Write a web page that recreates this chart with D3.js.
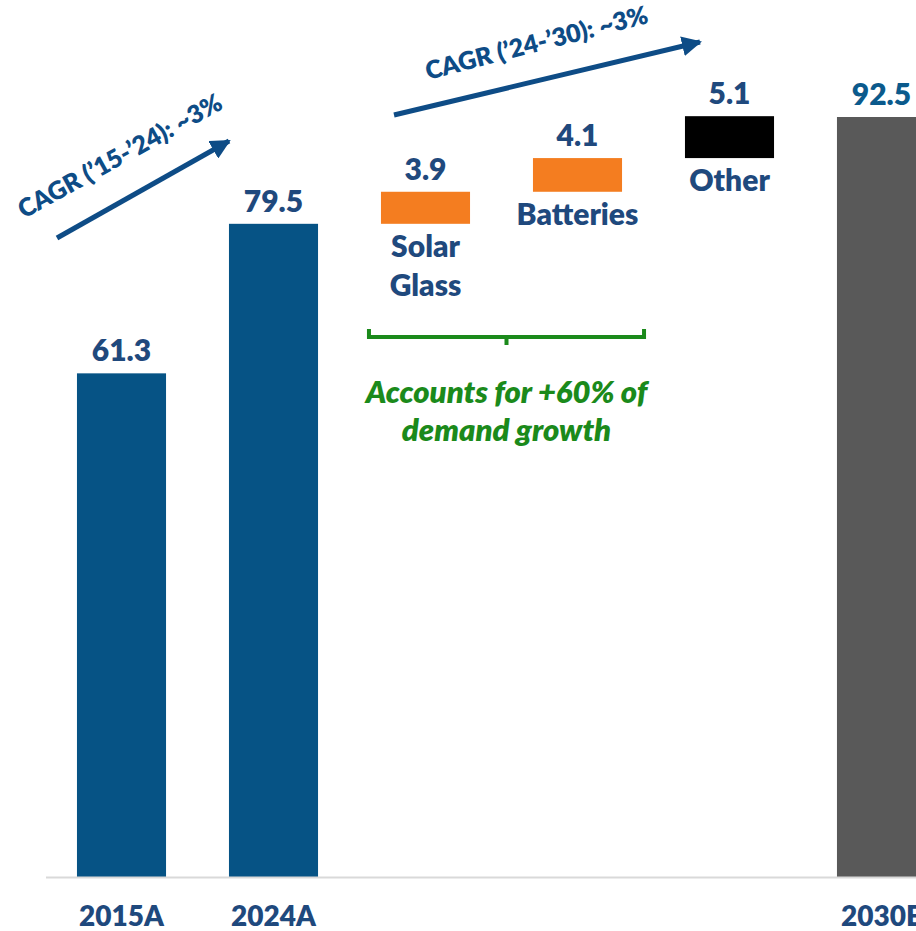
<!DOCTYPE html>
<html>
<head>
<meta charset="utf-8">
<script src="https://cdn.jsdelivr.net/npm/d3@7"></script>
<style>
  body { margin: 0; background: #fff; }
  svg { display: block; font-family: Lato, "Open Sans", sans-serif; font-weight: 800; }
</style>
</head>
<body>
<script>
let w = 916;
let h = 931;

// data
const categories = ["2015A", "2024A", "Solar Glass", "Batteries", "Other", "2030E"];
const axisLabels = ["2015A", "2024A", "", "", "", "2030E"];
const values = [61.3, 79.5, 3.9, 4.1, 5.1, 92.5];
const kinds = ["total", "total", "step", "step", "step", "total"];
const barNames = ["", "", ["Solar", "Glass"], ["Batteries"], ["Other"], ""];
const barColors = ["#065385", "#065385", "#f47d20", "#f47d20", "#000000", "#595959"];
const cagrLabels = ["CAGR (\u201915-\u201924): ~3%", "CAGR (\u201924-\u201930): ~3%"];
const bracketNote = ["Accounts for +60% of", "demand growth"];

let navy = "#1f497d";

let svg = d3.select("body")
            .append("svg")
            .attr("width", w)
            .attr("height", h);

let x = d3.scaleBand(categories, [45.5, 957.5])
          .paddingInner(0.414)
          .paddingOuter(0.207);
let y = d3.scaleLinear([0, 92.5], [877, 117]);

// waterfall: steps start where the previous bar ended
let bars = [];
let running = 0;
categories.forEach((c, i) => {
    let lo, hi;
    if (kinds[i] == "total") { lo = 0; hi = values[i]; running = values[i]; }
    else { lo = running; hi = running + values[i]; running = hi; }
    bars.push({cat: c, lo: lo, hi: hi, v: values[i], color: barColors[i], names: barNames[i]});
});

svg.selectAll("rect.bar")
   .data(bars)
   .enter()
   .append("rect")
   .attr("class", "bar")
   .attr("x", d => x(d.cat))
   .attr("width", x.bandwidth())
   .attr("y", d => y(d.hi))
   .attr("height", d => y(d.lo) - y(d.hi))
   .attr("fill", d => d.color);

// value labels
svg.selectAll("text.value")
   .data(bars)
   .enter()
   .append("text")
   .attr("class", "value")
   .attr("x", d => x(d.cat) + x.bandwidth() / 2)
   .attr("y", d => y(d.hi) - 12)
   .attr("text-anchor", "middle")
   .attr("font-size", 30)
   .attr("fill", d => d.cat == "2030E" ? "#0b5a8c" : navy)
   .text(d => d.v.toFixed(1));

// names below the step bars
bars.filter(d => d.names).forEach(d => {
    d.names.forEach((n, j) => {
        svg.append("text")
           .attr("x", x(d.cat) + x.bandwidth() / 2)
           .attr("y", y(d.lo) + 33 + j * 39)
           .attr("text-anchor", "middle")
           .attr("font-size", 30)
           .attr("fill", navy)
           .text(n);
    });
});

// bottom axis
let axis = d3.axisBottom(x)
             .tickSize(0)
             .tickPadding(29)
             .tickFormat((d, i) => axisLabels[i]);
let ax = svg.append("g")
            .attr("transform", `translate(0, ${y(0)})`)
            .call(axis);
ax.select(".domain").attr("stroke", "#d9d9d9").attr("stroke-width", 2);
ax.selectAll("text")
  .attr("font-family", "Lato, sans-serif")
  .attr("font-weight", 800)
  .attr("font-size", 28)
  .attr("fill", navy);

// CAGR arrows
let defs = svg.append("defs");
defs.append("marker")
    .attr("id", "head")
    .attr("viewBox", "0 0 10 10")
    .attr("refX", 9).attr("refY", 5)
    .attr("markerWidth", 4).attr("markerHeight", 4)
    .attr("orient", "auto")
    .append("path")
    .attr("d", "M0,0 L10,5 L0,10 Z")
    .attr("fill", "#0e4c86");

let arrows = [
    {x1: 57, y1: 238, x2: 229, y2: 141, tx: 24, ty: 219, ang: -29},
    {x1: 394, y1: 115, x2: 700, y2: 42, tx: 428, ty: 80, ang: -14.5}
];
arrows.forEach((a, i) => {
    svg.append("line")
       .attr("x1", a.x1).attr("y1", a.y1)
       .attr("x2", a.x2).attr("y2", a.y2)
       .attr("stroke", "#0e4c86")
       .attr("stroke-width", 5)
       .attr("marker-end", "url(#head)");
    svg.append("text")
       .attr("transform", `translate(${a.tx},${a.ty}) rotate(${a.ang})`)
       .attr("font-size", 25)
       .attr("fill", "#0e4c86")
       .text(cagrLabels[i]);
});

// green bracket under solar glass + batteries
let bx1 = x("Solar Glass") - 12;
let bx2 = x("Batteries") + x.bandwidth() + 22;
let by = 337;
svg.append("path")
   .attr("d", `M${bx1},${by - 8} V${by} H${bx2} V${by - 8} M${(bx1 + bx2) / 2},${by} v8`)
   .attr("fill", "none")
   .attr("stroke", "#1b8a1b")
   .attr("stroke-width", 4);

bracketNote.forEach((t, j) => {
    svg.append("text")
       .attr("x", (bx1 + bx2) / 2)
       .attr("y", 403 + j * 38)
       .attr("text-anchor", "middle")
       .attr("font-size", 31)
       .attr("font-style", "italic")
       .attr("fill", "#1b8a1b")
       .text(t);
});
</script>
</body>
</html>
